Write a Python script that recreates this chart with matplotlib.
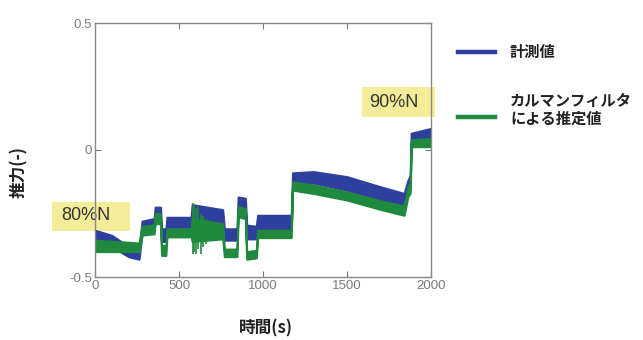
import matplotlib
matplotlib.use("Agg")
import matplotlib.pyplot as plt
from matplotlib.lines import Line2D
from matplotlib.patches import Rectangle

# band of the measured thrust (upper / lower edge of the noisy trace)
blue_t  = [0, 100, 200, 262, 280, 352, 358, 390, 396, 422, 428, 572, 578, 760, 770, 845,
           852, 895, 903, 960, 968, 1168, 1176, 1300, 1500, 1700, 1840, 1862, 1876, 1882, 2000]
blue_hi = [-0.316, -0.336, -0.38, -0.39, -0.28, -0.27, -0.225, -0.225, -0.31, -0.31, -0.265,
           -0.265, -0.215, -0.235, -0.31, -0.31, -0.185, -0.19, -0.296, -0.30, -0.257, -0.257,
           -0.09, -0.085, -0.105, -0.145, -0.171, -0.12, -0.10, 0.066, 0.085]
blue_lo = [-0.375, -0.38, -0.42, -0.43, -0.33, -0.315, -0.275, -0.275, -0.36, -0.36, -0.315,
           -0.315, -0.33, -0.32, -0.355, -0.355, -0.237, -0.24, -0.35, -0.35, -0.31, -0.31,
           -0.145, -0.13, -0.158, -0.195, -0.22, -0.165, -0.15, 0.026, 0.033]

# band of the Kalman filter estimate
green_t  = [0, 262, 280, 352, 358, 390, 396, 422, 428, 572, 578, 760, 770, 845, 852, 895,
            903, 960, 968, 1168, 1176, 1300, 1500, 1700, 1840, 1862, 1876, 1882, 2000]
green_hi = [-0.355, -0.366, -0.30, -0.296, -0.25, -0.25, -0.375, -0.375, -0.31, -0.31, -0.27,
            -0.29, -0.39, -0.39, -0.224, -0.23, -0.40, -0.395, -0.316, -0.316, -0.125, -0.138,
            -0.165, -0.20, -0.22, -0.145, -0.13, 0.04, 0.046]
green_lo = [-0.40, -0.40, -0.335, -0.33, -0.29, -0.29, -0.415, -0.415, -0.342, -0.342, -0.36,
            -0.35, -0.42, -0.42, -0.263, -0.27, -0.43, -0.425, -0.345, -0.345, -0.158, -0.171,
            -0.197, -0.234, -0.257, -0.184, -0.17, 0.013, 0.013]

# short spikes of the estimate in the oscillating part
spike_t  = [2, 582, 592, 600, 615, 628, 645, 660, 690, 720]
spike_hi = [-0.36, -0.21, -0.22, -0.23, -0.22, -0.25, -0.26, -0.27, -0.28, -0.29]
spike_lo = [-0.45, -0.41, -0.40, -0.41, -0.39, -0.41, -0.38, -0.37, -0.36, -0.35]

xticks = [0, 500, 1000, 1500, 2000]
yticks = [-0.5, 0, 0.5]
ytick_labels = ["-0.5", "0", "0.5"]

blue = "#2e3f9e"
green = "#1f8a3e"
yellow = "#f4ec98"
jp = ["Noto Sans CJK JP", "DejaVu Sans"]

W, H = 643, 340
def fx(px):
    return px / W
def fy(py):
    return 1 - py / H

fig = plt.figure(figsize=(6.43, 3.4), dpi=100)
ax = fig.add_axes([fx(95), fy(277), 336 / W, 254 / H])
ax.patch.set_alpha(0)  # so the label boxes behind show through, spines stay on top

ax.fill_between(blue_t, blue_lo, blue_hi, color=blue, linewidth=1.5, edgecolor=blue)
ax.fill_between(green_t, green_lo, green_hi, color=green, linewidth=1.5, edgecolor=green)
ax.vlines(spike_t, spike_lo, spike_hi, color=green, linewidth=1.2)

ax.set_xlim(0, 2000)
ax.set_ylim(-0.5, 0.5)
ax.set_xticks(xticks)
ax.set_yticks(yticks)
ax.set_yticklabels(ytick_labels)
ax.tick_params(direction="in", top=True, right=True, length=4, width=0.8,
               color="#777777", labelcolor="#7a7a7a", labelsize=9.5, pad=2)
for lab in ax.get_xticklabels() + ax.get_yticklabels():
    lab.set_family("Liberation Sans")
for s in ax.spines.values():
    s.set_color("#888888")
    s.set_linewidth(1.0)

# yellow labels (boxes in figure pixels), drawn under the axes
fig.add_artist(Rectangle((fx(52), fy(231)), 78 / W, 29 / H, transform=fig.transFigure,
                         facecolor=yellow, edgecolor="none", zorder=-2))
fig.text(fx(86), fy(216), "80%N", fontsize=13, family="Liberation Sans",
         color="#333333", ha="center", va="center", zorder=-1)
fig.add_artist(Rectangle((fx(362), fy(117)), 73 / W, 30 / H, transform=fig.transFigure,
                         facecolor=yellow, edgecolor="none", zorder=-2))
fig.text(fx(394), fy(102), "90%N", fontsize=13, family="Liberation Sans",
         color="#333333", ha="center", va="center", zorder=-1)

# axis labels
fig.text(fx(266), fy(328), "時間(s)", fontsize=12, family=jp, weight="bold",
         color="#222222", ha="center", va="center")
fig.text(fx(19), fy(172), "推力(-)", fontsize=12, family=jp, weight="bold",
         color="#222222", ha="center", va="center", rotation=90)

# legend drawn by hand
fig.add_artist(Line2D([fx(458), fx(495)], [fy(52), fy(52)], color=blue, linewidth=3.2))
fig.add_artist(Line2D([fx(458), fx(495)], [fy(117), fy(117)], color=green, linewidth=3.2))
fig.text(fx(510), fy(52), "計測値", fontsize=11, family=jp, weight="bold",
         color="#222222", ha="left", va="center")
fig.text(fx(510), fy(110), "カルマンフィルタ\nによる推定値", fontsize=11, family=jp,
         weight="bold", color="#222222", ha="left", va="center", linespacing=1.1)

fig.savefig("out.png", dpi=100)
